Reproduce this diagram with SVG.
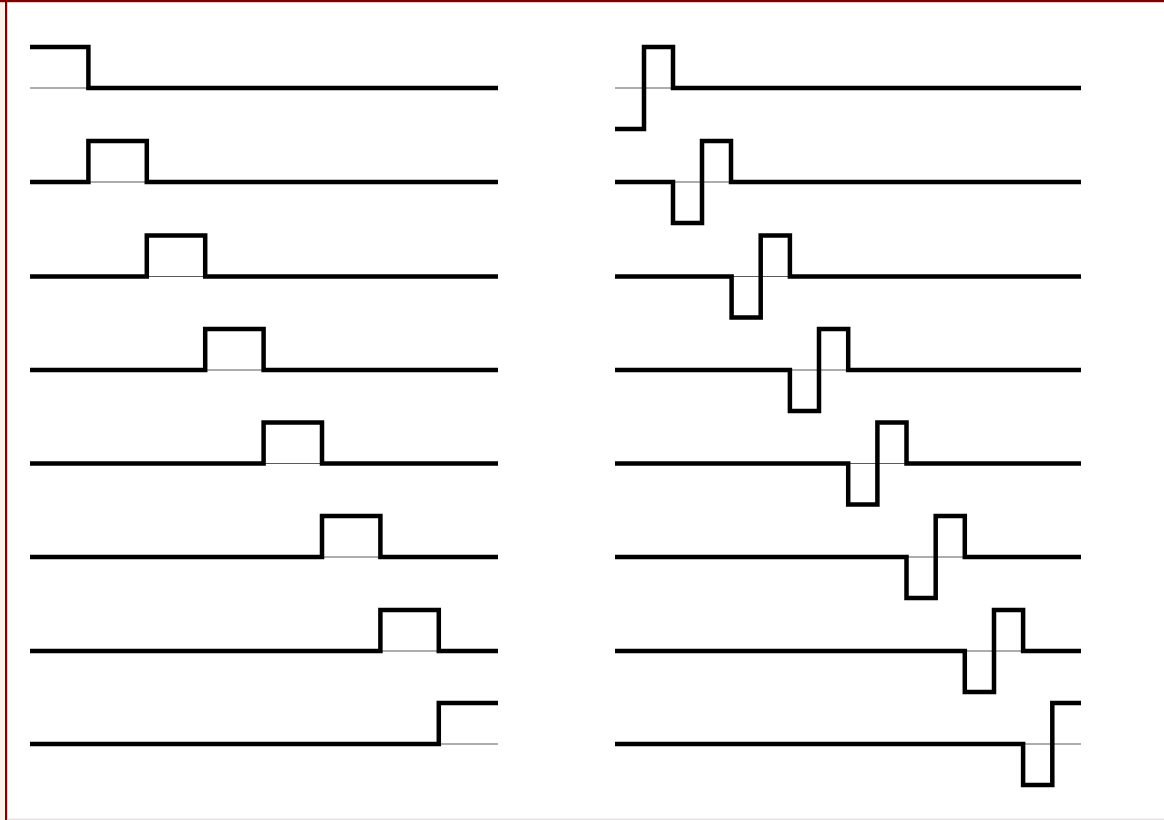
<svg xmlns="http://www.w3.org/2000/svg" width="1164" height="820" viewBox="0 0 1164 820">
<style>
.axis{fill:none;stroke:#5a5a5a;stroke-width:1.2}
.wave{fill:none;stroke:#000;stroke-width:4.5;stroke-linejoin:miter;stroke-linecap:butt}
</style>
<rect x="0" y="0" width="1164" height="820" fill="#ffffff"/>
<rect x="0" y="0" width="5" height="820" fill="#fdf2ea"/>
<rect x="5" y="0" width="2.2" height="820" fill="#800000"/>
<rect x="0" y="0" width="1164" height="2.2" fill="#800000"/>
<rect x="7" y="818.5" width="1157" height="1.5" fill="#eadfe2"/>
<g id="axes">
<path class="axis" d="M30,88H498M30,182H498M30,276.5H498M30,370H498M30,463.5H498M30,557H498M30,651H498M30,744H498"/>
<path class="axis" d="M615,88H1081M615,182H1081M615,276.5H1081M615,370H1081M615,463.5H1081M615,557H1081M615,651H1081M615,744H1081"/>
</g>
<g id="pulses">
<g id="p0"><path class="wave" d="M30,47H88.4V88H498"/></g>
<g id="p1"><path class="wave" d="M30,182H88.4V141H146.8V182H498"/></g>
<g id="p2"><path class="wave" d="M30,276.5H146.8V235.5H205.2V276.5H498"/></g>
<g id="p3"><path class="wave" d="M30,370H205.2V329H263.6V370H498"/></g>
<g id="p4"><path class="wave" d="M30,463.5H263.6V422.5H322V463.5H498"/></g>
<g id="p5"><path class="wave" d="M30,557H322V516H380.4V557H498"/></g>
<g id="p6"><path class="wave" d="M30,651H380.4V610H438.8V651H498"/></g>
<g id="p7"><path class="wave" d="M30,744H438.8V703H498"/></g>
</g>
<g id="doublets">
<g id="d0"><path class="wave" d="M615,129H644V47H673V88H1081"/></g>
<g id="d1"><path class="wave" d="M615,182H673V223H702V141H731V182H1081"/></g>
<g id="d2"><path class="wave" d="M615,276.5H731.6V317.5H760.7V235.5H789.9V276.5H1081"/></g>
<g id="d3"><path class="wave" d="M615,370H789.9V411H819V329H848.2V370H1081"/></g>
<g id="d4"><path class="wave" d="M615,463.5H848.2V504.5H877.4V422.5H906.5V463.5H1081"/></g>
<g id="d5"><path class="wave" d="M615,557H906.5V598H935.7V516H964.8V557H1081"/></g>
<g id="d6"><path class="wave" d="M615,651H964.8V692H994V610H1023.1V651H1081"/></g>
<g id="d7"><path class="wave" d="M615,744H1023.1V785H1052.3V703H1081"/></g>
</g>
</svg>
